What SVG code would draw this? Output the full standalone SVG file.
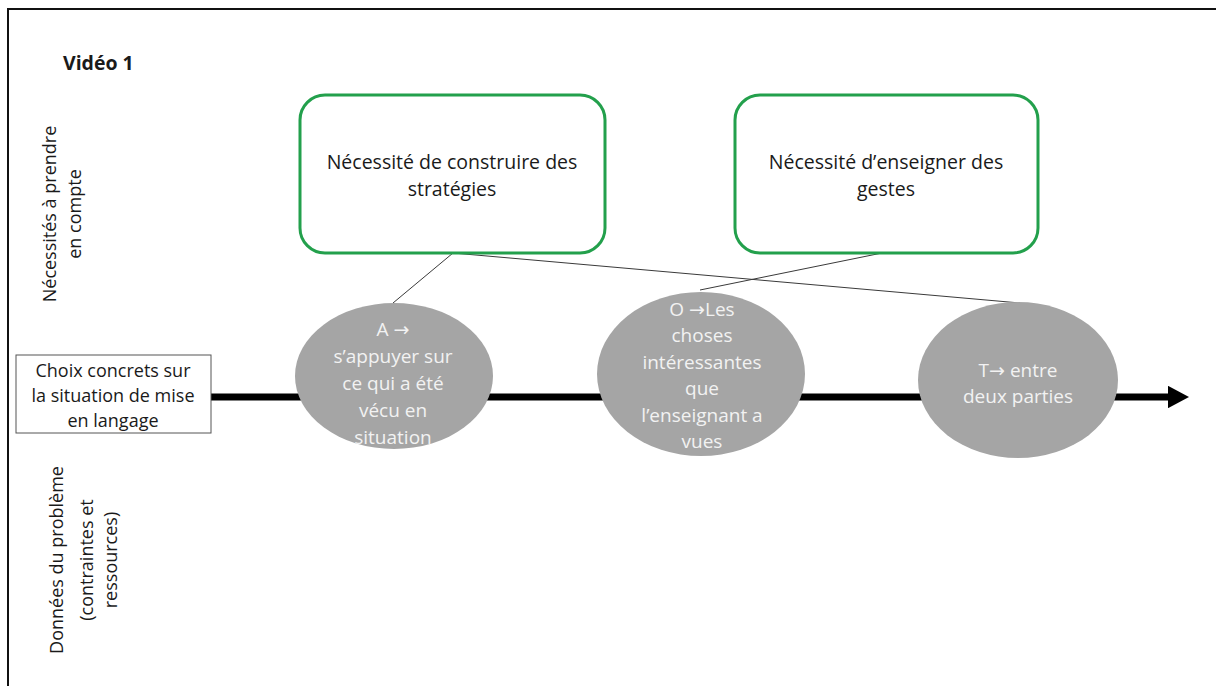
<svg xmlns="http://www.w3.org/2000/svg" width="1216" height="686" viewBox="0 0 1216 686">
<style>
text{font-family:"Open Sans","Liberation Sans",sans-serif;}
.dark{fill:#1a1a1a;font-size:19.5px;}
.white{fill:#f2f2f2;font-size:19px;}
.arr{font-family:"DejaVu Sans",sans-serif;}
.green{fill:#ffffff;stroke:#23a04c;stroke-width:3;}
.ell{fill:#a5a5a5;}
.conn{stroke:#3a3a3a;stroke-width:1;fill:none;}
</style>
<defs>
<marker id="ah" markerWidth="3" markerHeight="3.2" refX="0" refY="1.6" orient="auto" markerUnits="strokeWidth" viewBox="0 0 3 3.2">
<path d="M0,0 L3,1.6 L0,3.2 Z" fill="#000"/>
</marker>
</defs>
<rect width="1216" height="686" fill="#ffffff"/>
<path d="M8,686 L8,9 L1216,9" fill="none" stroke="#111" stroke-width="2"/>
<text x="63" y="70" class="dark" style="font-weight:bold;font-size:19.5px">Vidéo 1</text>
<text class="dark" transform="translate(56,214) rotate(-90)" text-anchor="middle" style="font-size:18px"><tspan x="0" y="0">Nécessités à prendre</tspan><tspan x="0" y="25">en compte</tspan></text>
<text class="dark" transform="translate(63,560) rotate(-90)" text-anchor="middle" style="font-size:18px"><tspan x="0" y="0">Données du problème</tspan><tspan x="0" y="30">(contraintes et</tspan><tspan x="0" y="54">ressources)</tspan></text>
<g id="connectors">
<line x1="211" y1="397" x2="1168" y2="397" stroke="#000" stroke-width="7" marker-end="url(#ah)"/>
<line class="conn" x1="453" y1="253" x2="393" y2="303"/>
<line class="conn" x1="453" y1="253" x2="1020" y2="303"/>
<line class="conn" x1="882" y1="253" x2="700" y2="290"/>
</g>
<g id="box-choix">
<rect x="16" y="355" width="195" height="78" fill="#fff" stroke="#555" stroke-width="1"/>
<text class="dark" text-anchor="middle" style="font-size:18px"><tspan x="113" y="377">Choix concrets sur</tspan><tspan x="113" y="402">la situation de mise</tspan><tspan x="113" y="427">en langage</tspan></text>
</g>
<g id="need-strategies">
<rect class="green" x="300" y="95" width="305" height="158" rx="25" ry="25"/>
<text class="dark" text-anchor="middle"><tspan x="452" y="169">Nécessité de construire des</tspan><tspan x="452" y="196">stratégies</tspan></text>
</g>
<g id="need-gestes">
<rect class="green" x="735" y="95" width="303" height="158" rx="25" ry="25"/>
<text class="dark" text-anchor="middle"><tspan x="886" y="169">Nécessité d’enseigner des</tspan><tspan x="886" y="196">gestes</tspan></text>
</g>
<g id="ellipse-a">
<ellipse class="ell" cx="394" cy="376" rx="99" ry="73"/>
<text class="white" text-anchor="middle"><tspan x="393" y="336">A <tspan class="arr">→</tspan></tspan><tspan x="393" y="363">s’appuyer sur</tspan><tspan x="393" y="390">ce qui a été</tspan><tspan x="393" y="417">vécu en</tspan><tspan x="393" y="444">situation</tspan></text>
</g>
<g id="ellipse-o">
<ellipse class="ell" cx="701" cy="374" rx="104" ry="82"/>
<text class="white" text-anchor="middle"><tspan x="702" y="316">O <tspan class="arr">→</tspan>Les</tspan><tspan x="702" y="342">choses</tspan><tspan x="702" y="369">intéressantes</tspan><tspan x="702" y="395">que</tspan><tspan x="702" y="422">l’enseignant a</tspan><tspan x="702" y="448">vues</tspan></text>
</g>
<g id="ellipse-t">
<ellipse class="ell" cx="1018" cy="380" rx="100" ry="78"/>
<text class="white" text-anchor="middle"><tspan x="1018" y="377">T<tspan class="arr">→</tspan> entre</tspan><tspan x="1018" y="403">deux parties</tspan></text>
</g>
</svg>
